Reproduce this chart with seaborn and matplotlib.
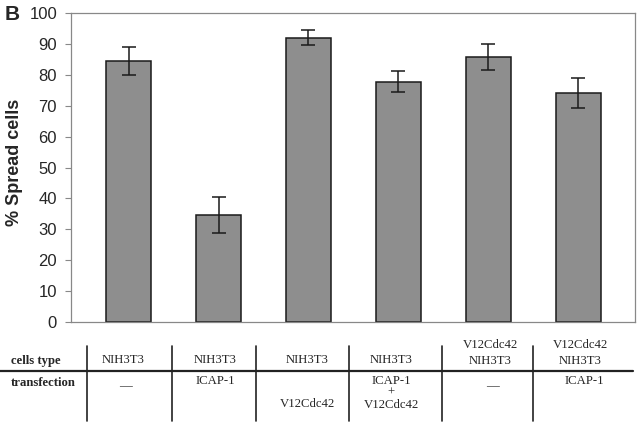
import matplotlib
matplotlib.use('Agg')
import matplotlib.pyplot as plt
import seaborn as sns
import pandas as pd
from matplotlib.lines import Line2D

# data
groups = ['1', '2', '3', '4', '5', '6']
spread = [84.4, 34.5, 92.0, 77.8, 85.9, 74.1]
err = [4.5, 5.8, 2.5, 3.5, 4.2, 4.8]
cells_type = ['NIH3T3', 'NIH3T3', 'NIH3T3', 'NIH3T3', 'V12Cdc42\nNIH3T3', 'V12Cdc42\nNIH3T3']
transfection = ['\u2014', 'ICAP-1', 'V12Cdc42', 'ICAP-1\n+\nV12Cdc42', '\u2014', 'ICAP-1']

df = pd.DataFrame({'group': groups, 'spread': spread})

sns.set_style('white')
plt.rcParams['font.family'] = ['Liberation Sans', 'DejaVu Sans']

W, H = 640, 428
fig = plt.figure(figsize=(6.4, 4.28), dpi=100)
ax = fig.add_axes([71 / W, 1 - 322 / H, (635 - 71) / W, (322 - 13) / H])

sns.barplot(data=df, x='group', y='spread', color='#8e8e8e', width=0.5,
            edgecolor='#1a1a1a', linewidth=1.1, saturation=1, errorbar=None, ax=ax)
ax.errorbar(range(len(groups)), spread, yerr=err, fmt='none', ecolor='#1a1a1a',
            elinewidth=1.1, capsize=5, capthick=1.1)

ax.set_xlim(-0.64, 5.63)
ax.set_ylim(0, 100)
ax.set_yticks(range(0, 101, 10))
ax.tick_params(axis='y', labelsize=12, length=4, width=0.8, color='#888888', pad=6, left=True)
ax.tick_params(axis='x', bottom=False, labelbottom=False)
ax.set_xlabel('')
ax.set_ylabel('% Spread cells', fontsize=13, fontweight='bold')
ax.yaxis.set_label_coords(-0.085, 0.518)
for s in ax.spines.values():
    s.set_color('#888888')
    s.set_linewidth(0.9)

fig.text(5 / W, 1 - 14 / H, 'B', fontsize=15, fontweight='bold', va='center', ha='left')

# table under the chart
serif = ['Liberation Serif', 'DejaVu Serif']
fs = 9.2
col_x = [123, 215, 307, 391, 490, 580]
fig.text(11 / W, 1 - 361 / H, 'cells type', family=serif, fontsize=fs, fontweight='bold', va='center')
fig.text(11 / W, 1 - 383 / H, 'transfection', family=serif, fontsize=fs, fontweight='bold', va='center')

for i, x in enumerate(col_x):
    ct = cells_type[i]
    if '\n' in ct:
        fig.text(x / W, 1 - 353 / H, ct, family=serif, fontsize=fs, ha='center', va='center',
                 linespacing=1.35)
    else:
        fig.text(x / W, 1 - 360 / H, ct, family=serif, fontsize=fs, ha='center', va='center')
    tr = transfection[i]
    if tr == '\u2014':
        fig.text(x / W + 2 / W, 1 - 386 / H, tr, family=serif, fontsize=fs, ha='center', va='center')
    elif i == 2:
        fig.text(x / W, 1 - 404 / H, tr, family=serif, fontsize=fs, ha='center', va='center')
    elif '\n' in tr:
        fig.text(x / W, 1 - 393 / H, tr, family=serif, fontsize=fs, ha='center', va='center',
                 linespacing=0.95)
    else:
        fig.text(x / W + (4 / W if i == 5 else 0), 1 - 381 / H, tr, family=serif, fontsize=fs,
                 ha='center', va='center')

fig.add_artist(Line2D([0, 633 / W], [1 - 370.5 / H] * 2, color='#222222', lw=1.6,
                      transform=fig.transFigure))
for vx in [87, 172, 256, 349, 442, 533]:
    fig.add_artist(Line2D([vx / W] * 2, [1 - 346 / H, 1 - 421 / H], color='#222222', lw=1.2,
                          transform=fig.transFigure))

fig.savefig('out.png', dpi=100)
